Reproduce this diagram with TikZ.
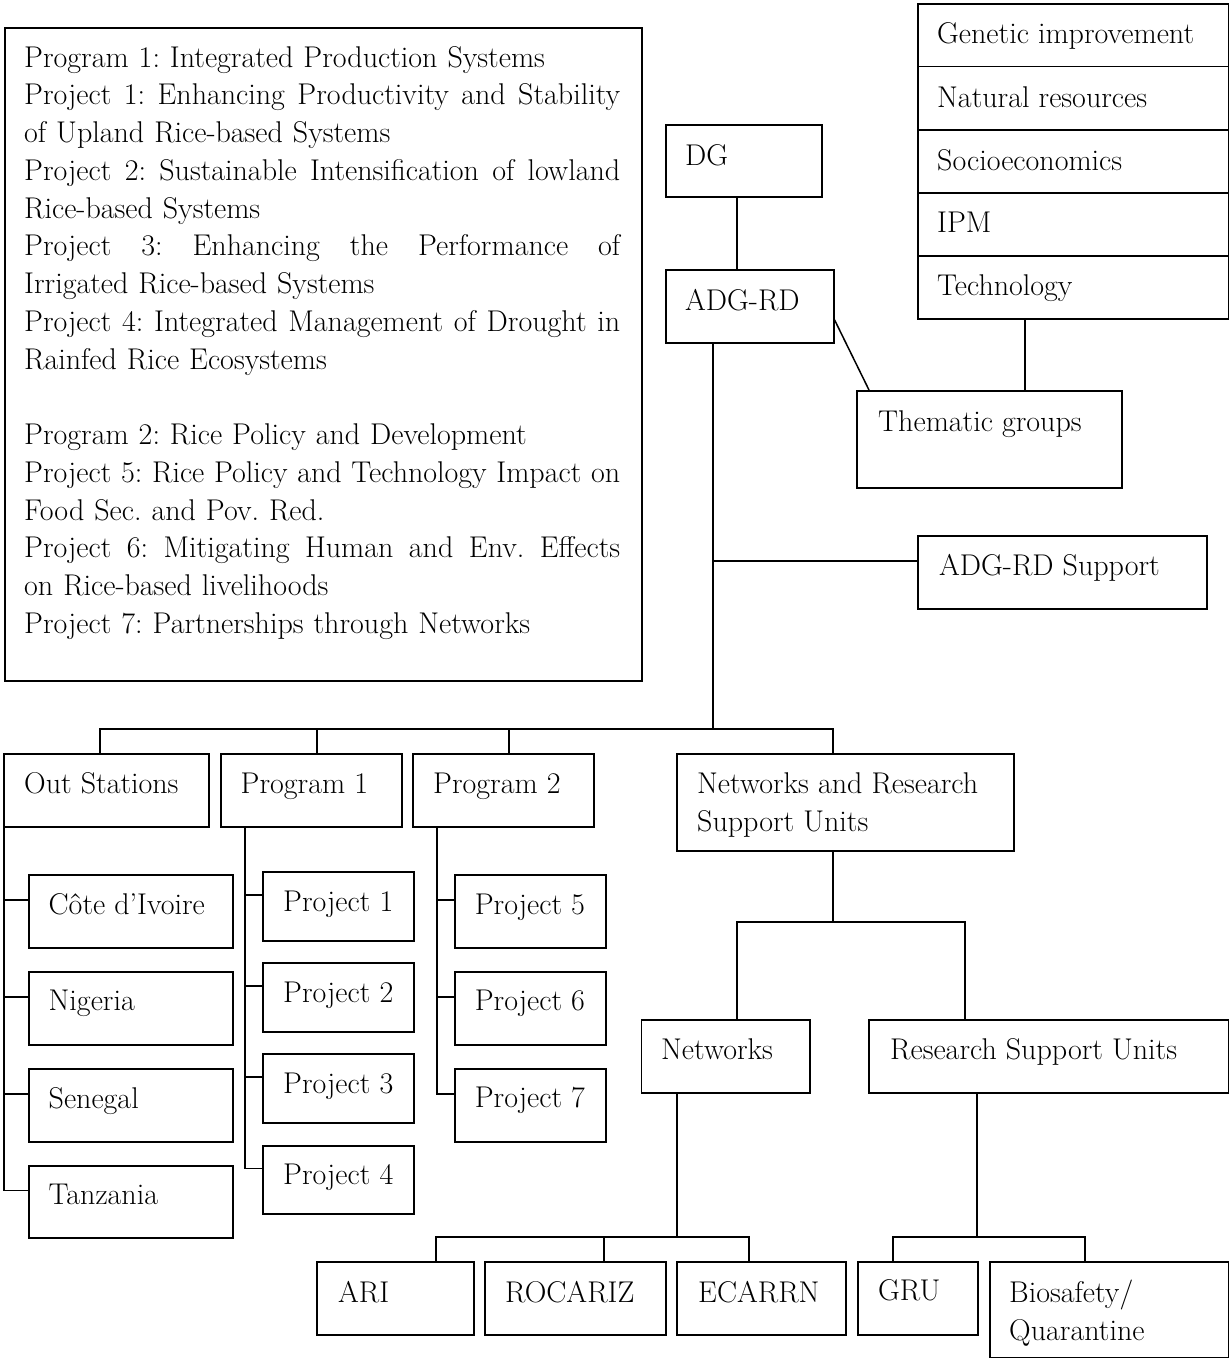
\documentclass[tikz,border=0pt]{standalone}
\usetikzlibrary{calc}
\tikzset{
  box/.style={draw, line width=1.5pt, rectangle, inner sep=0pt, anchor=north west},
  txt/.style={inner sep=0pt, anchor=base west},
  conn/.style={line width=1.5pt},
  every node/.style={font=\fontsize{30}{37.75}\selectfont\frenchspacing}
}
% name, x1, y1, x2, y2
\newcommand\mybox[5]{\node[box, minimum width={(#4-#2)*1pt}, minimum height={(#5-#3)*1pt}] (#1) at (#2,#3) {};}
\newcommand\jline[1]{\hbox to 596pt{\spaceskip=.3333em plus 1fil minus .12em\relax #1}}
\begin{document}
\begin{tikzpicture}[x=1pt,y=-1pt]
\useasboundingbox (0,0) rectangle (1229,1358);

% big text box
\mybox{progbox}{4}{27}{641}{680}
\node[inner sep=0pt, anchor=north west, text width=596pt, align=left] (progtext) at (24,40.6) {%
\strut Program 1: Integrated Production Systems\\
\strut\jline{Project 1: Enhancing Productivity and Stability}\\
\strut of Upland Rice-based Systems\\
\strut\jline{Project 2: Sustainable Intensification of lowland}\\
\strut Rice-based Systems\\
\strut\jline{Project 3: Enhancing the Performance of}\\
\strut Irrigated Rice-based Systems\\
\strut\jline{Project 4: Integrated Management of Drought in}\\
\strut Rainfed Rice Ecosystems\\
\strut\\
\strut Program 2: Rice Policy and Development\\
\strut\jline{Project 5: Rice Policy and Technology Impact on}\\
\strut Food Sec. and Pov. Red.\\
\strut\jline{Project 6: Mitigating Human and Env. Effects}\\
\strut on Rice-based livelihoods\\
\strut Project 7: Partnerships through Networks};

% thematic stack
\mybox{th1}{917}{3}{1228}{65.5}
\mybox{th2}{917}{65.5}{1228}{129}
\mybox{th3}{917}{129}{1228}{192}
\mybox{th4}{917}{192}{1228}{255}
\mybox{th5}{917}{255}{1228}{318}
\node[txt] (th1t) at (937,43.5) {Genetic improvement};
\node[txt] (th2t) at (937,107) {Natural resources};
\node[txt] (th3t) at (937,170) {Socioeconomics};
\node[txt] (th4t) at (937,232) {IPM};
\node[txt] (th5t) at (937,295) {Technology};

% DG / ADG-RD
\mybox{dg}{665}{124}{821}{196}
\node[txt] (dgt) at (685,165) {DG};
\mybox{adg}{665}{269}{833}{342}
\node[txt] (adgt) at (685,310) {ADG-RD};
\mybox{them}{856}{390}{1121}{487}
\node[txt] (themt) at (878,431) {Thematic groups};
\mybox{sup}{917}{535}{1206}{608}
\node[txt] (supt) at (939,575.5) {ADG-RD Support};

% second level
\mybox{out}{3}{753}{208}{826}
\node[txt] (outt) at (24,793) {Out Stations};
\mybox{pa}{220}{753}{401}{826}
\node[txt] (pat) at (240.5,793) {Program 1};
\mybox{pb}{412}{753}{593}{826}
\node[txt] (pbt) at (433,793) {Program 2};
\mybox{nru}{676}{753}{1013}{850}
\node[txt] (nrut) at (697,793) {Networks and Research};
\node[txt] (nrut2) at (697,831) {Support Units};

% out stations
\mybox{ci}{28}{874}{232}{947}
\node[txt] (cit) at (48.5,914) {Côte d’Ivoire};
\mybox{ng}{28}{971}{232}{1044}
\node[txt] (ngt) at (48.5,1010) {Nigeria};
\mybox{sn}{28}{1068}{232}{1141}
\node[txt] (snt) at (48.5,1108) {Senegal};
\mybox{tz}{28}{1165}{232}{1237}
\node[txt] (tzt) at (48.5,1204.5) {Tanzania};

% program 1 projects
\mybox{pj1}{262}{871}{413}{940}
\node[txt] (pj1t) at (283,911) {Project 1};
\mybox{pj2}{262}{962}{413}{1031}
\node[txt] (pj2t) at (283,1002) {Project 2};
\mybox{pj3}{262}{1053}{413}{1122}
\node[txt] (pj3t) at (283,1093.5) {Project 3};
\mybox{pj4}{262}{1145}{413}{1213}
\node[txt] (pj4t) at (283,1184) {Project 4};

% program 2 projects
\mybox{pj5}{454}{874}{605}{947}
\node[txt] (pj5t) at (474.7,914) {Project 5};
\mybox{pj6}{454}{971}{605}{1044}
\node[txt] (pj6t) at (474.7,1010) {Project 6};
\mybox{pj7}{454}{1068}{605}{1141}
\node[txt] (pj7t) at (474.7,1107) {Project 7};

% networks / RSU
\mybox{net}{640.5}{1019}{809}{1092}
\node[txt] (nett) at (661,1059) {Networks};
\mybox{rsu}{868}{1019}{1228}{1092}
\node[txt] (rsut) at (890,1059) {Research Support Units};

% bottom
\mybox{ari}{316}{1261}{473}{1334}
\node[txt] (arit) at (338,1302) {ARI};
\mybox{roc}{484}{1261}{665}{1334}
\node[txt] (roct) at (505,1302) {ROCARIZ};
\mybox{eca}{676}{1261}{845}{1334}
\node[txt] (ecat) at (698,1302) {ECARRN};
\mybox{gru}{857}{1261}{977}{1334}
\node[txt] (grut) at (878,1300) {GRU};
\mybox{bio}{989}{1261}{1228}{1357}
\node[txt] (biot) at (1009,1302) {Biosafety/};
\node[txt] (biot2) at (1009,1340) {Quarantine};

% connectors
\draw[conn] ([xshift=72pt]dg.south west) -- ([xshift=72pt]adg.north west);
\draw[conn] ([yshift=-13.5pt]adg.east) -- ([xshift=13pt]them.north west);
\draw[conn] ([xshift=108pt]th5.south west) -- ([xshift=108pt]th5.south west |- them.north);
\coordinate (bus) at (713,729);
\draw[conn] ([xshift=48pt]adg.south west) -- (bus);
\draw[conn] ([yshift=11.5pt]sup.west) -- ([yshift=11.5pt]sup.west -| bus);
\draw[conn] ([xshift=97pt]out.north west) |- ([xshift=157pt]nru.north west |- bus) -- ([xshift=157pt]nru.north west);
\draw[conn] ([xshift=97pt]pa.north west) -- ([xshift=97pt]pa.north west |- bus);
\draw[conn] ([xshift=97pt]pb.north west) -- ([xshift=97pt]pb.north west |- bus);

\draw[conn] ([xshift=1pt]out.south west) |- ([yshift=11.5pt]tz.west);
\draw[conn] ([yshift=11.5pt]ci.west) -- ++(-24,0);
\draw[conn] ([yshift=11.5pt]ng.west) -- ++(-24,0);
\draw[conn] ([yshift=11.5pt]sn.west) -- ++(-24,0);

\draw[conn] ([xshift=25pt]pa.south west) |- ([yshift=11.5pt]pj4.west);
\draw[conn] ([yshift=11.5pt]pj1.west) -- ++(-17,0);
\draw[conn] ([yshift=11.5pt]pj2.west) -- ++(-17,0);
\draw[conn] ([yshift=11.5pt]pj3.west) -- ++(-17,0);

\draw[conn] ([xshift=25pt]pb.south west) |- ([yshift=11.5pt]pj7.west);
\draw[conn] ([yshift=11.5pt]pj5.west) -- ++(-17,0);
\draw[conn] ([yshift=11.5pt]pj6.west) -- ++(-17,0);

\coordinate (nb) at (833,922);
\draw[conn] ([xshift=157pt]nru.south west) -- (nb);
\draw[conn] ([xshift=96.5pt]net.north west) |- (nb) -| ([xshift=97pt]rsu.north west);

\coordinate (ab) at (677,1237);
\draw[conn] ([xshift=36.5pt]net.south west) -- (ab);
\draw[conn] ([xshift=120pt]ari.north west) |- (ab) -| ([xshift=73pt]eca.north west);
\draw[conn] ([xshift=120pt]roc.north west) -- ([xshift=120pt]roc.north west |- ab);

\coordinate (rb) at (977,1237);
\draw[conn] ([xshift=109pt]rsu.south west) -- (rb);
\draw[conn] ([xshift=36pt]gru.north west) |- (rb) -| ([xshift=96pt]bio.north west);
\end{tikzpicture}
\end{document}
